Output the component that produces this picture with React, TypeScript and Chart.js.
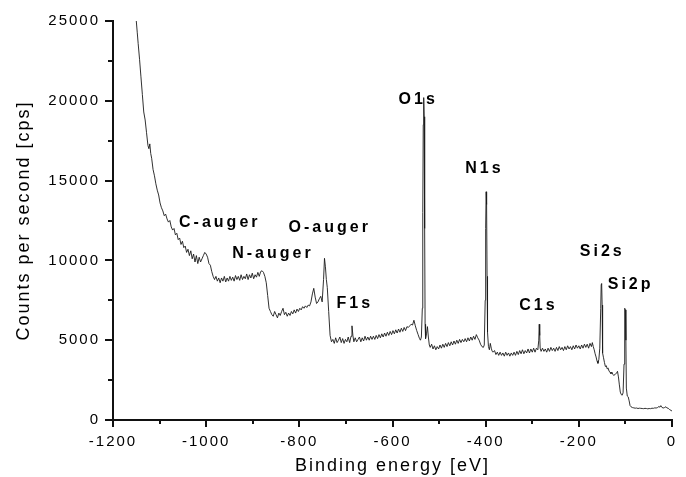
import { useEffect, useRef } from "react";
import { Chart, registerables } from "chart.js";

Chart.register(...registerables);

// Binding energy [eV]
const ENERGY = [
  -1150, -1148, -1146, -1143, -1140, -1137, -1134, -1131, -1128, -1125,
  -1123, -1121, -1119, -1117, -1114, -1111, -1108, -1105, -1102, -1099,
  -1096, -1093, -1090, -1087, -1084, -1081, -1078, -1075, -1072, -1069,
  -1066, -1063, -1060, -1057, -1054, -1051, -1048, -1045, -1042, -1039,
  -1036, -1033, -1030, -1027, -1024, -1021, -1018, -1015, -1012, -1009,
  -1006, -1003, -1000, -997, -994, -991, -988, -985, -982, -979,
  -976, -973, -970, -967, -964, -961, -958, -955, -952, -949,
  -946, -943, -940, -937, -934, -931, -928, -925, -922, -919,
  -916, -913, -910, -907, -904, -901, -898, -895, -892, -889,
  -886, -883, -880, -877, -874, -871, -868, -865, -862, -859,
  -856, -853, -850, -847, -844, -841, -838, -835, -832, -829,
  -826, -823, -820, -817, -814, -811, -808, -805, -802, -799,
  -796, -793, -790, -787, -784, -781, -778, -775, -772, -769,
  -766, -763, -760, -757, -754, -751, -748, -746, -744, -742,
  -740, -737, -734, -731, -728, -725, -722, -719, -716, -713,
  -710, -707, -704, -701, -698, -695, -692, -689, -687, -685,
  -683, -680, -677, -674, -671, -668, -665, -662, -659, -656,
  -653, -650, -647, -644, -641, -638, -635, -632, -629, -626,
  -623, -620, -617, -614, -611, -608, -605, -602, -599, -596,
  -593, -590, -587, -584, -581, -578, -575, -572, -569, -566,
  -563, -560, -557, -554, -551, -548, -545, -542, -540, -538,
  -536, -535, -534, -533, -532, -531, -530, -529, -527, -525,
  -523, -521, -519, -516, -513, -510, -507, -504, -501, -498,
  -495, -492, -489, -486, -483, -480, -477, -474, -471, -468,
  -465, -462, -459, -456, -453, -450, -447, -444, -441, -438,
  -435, -432, -429, -426, -423, -420, -417, -414, -411, -408,
  -405, -403, -401, -400, -399, -398, -397, -396, -394, -392,
  -390, -388, -386, -384, -381, -378, -375, -372, -369, -366,
  -363, -360, -357, -354, -351, -348, -345, -342, -339, -336,
  -333, -330, -327, -324, -321, -318, -315, -312, -309, -306,
  -303, -300, -297, -294, -291, -288, -286, -285, -284, -283,
  -281, -278, -275, -272, -269, -266, -263, -260, -257, -254,
  -251, -248, -245, -242, -239, -236, -233, -230, -227, -224,
  -221, -218, -215, -212, -209, -206, -203, -200, -197, -194,
  -191, -188, -185, -182, -179, -176, -173, -171, -169, -167,
  -165, -163, -161, -159, -157, -155, -153, -152, -151, -150,
  -149, -147, -145, -143, -141, -139, -137, -135, -133, -131,
  -129, -127, -125, -122, -119, -117, -115, -113, -111, -109,
  -107, -105, -103, -102, -101, -100, -99, -98, -96, -94,
  -92, -90, -88, -85, -82, -79, -76, -73, -70, -67,
  -64, -61, -58, -55, -52, -49, -46, -43, -40, -37,
  -34, -31, -28, -26, -24, -22, -19, -16, -13, -11,
  -8, -5, -2, 0,
];

// Counts per second [cps]
const COUNTS = [
  25000, 24300, 23600, 22600, 21500, 20400, 19300, 18800, 18000, 17200,
  17000, 17300, 16700, 16400, 15700, 15300, 14800, 14400, 14100, 13600,
  13300, 13100, 12800, 12900, 12600, 12400, 12500, 12100, 11900, 12000,
  11600, 11700, 11300, 11400, 11000, 11200, 10800, 10900, 10500, 10700,
  10300, 10600, 10100, 10400, 9900, 10300, 9800, 10200, 9900, 10100,
  10300, 10500, 10400, 10200, 9800, 9700, 9300, 9000, 8800, 9000,
  8700, 8900, 8600, 8900, 8700, 9000, 8650, 8900, 8700, 9000,
  8750, 8950, 8700, 9050, 8800, 9000, 8750, 9100, 8800, 9000,
  8850, 9150, 8800, 9100, 8900, 9200, 8850, 9100, 8950, 9250,
  9000, 9300, 9350, 9250, 9000, 8600, 7800, 7000, 6800, 6600,
  6500, 6800, 6600, 6400, 6700, 6550, 6800, 7000, 6600, 6750,
  6500, 6700, 6550, 6800, 6650, 6900, 6700, 6950, 6800, 7000,
  6900, 7100, 7000, 7150, 7050, 7200, 7150, 7400, 7900, 8250,
  7700, 7300, 7400, 7600, 7750, 7400, 8800, 10130, 9600, 8800,
  8300, 6800, 5300, 4900, 5050, 4800, 5150, 4850, 5000, 5200,
  4850, 5100, 4800, 5050, 4900, 5200, 4850, 5250, 5900, 5300,
  4900, 5150, 4900, 5050, 5200, 4900, 5150, 4950, 5250, 5000,
  5200, 5000, 5250, 5050, 5250, 5050, 5300, 5100, 5350, 5150,
  5400, 5200, 5450, 5250, 5500, 5300, 5550, 5350, 5600, 5400,
  5650, 5450, 5700, 5500, 5750, 5550, 5800, 5600, 5850, 5800,
  5900, 6000, 5950, 6250, 5900, 5600, 5350, 5100, 5000, 5200,
  7000, 13000, 18500, 20200, 19000, 12000, 6000, 5100, 5400, 5850,
  5200, 4700, 4550, 4750, 4450, 4650, 4400, 4600, 4450, 4700,
  4500, 4750, 4550, 4800, 4600, 4850, 4650, 4900, 4700, 4950,
  4750, 5000, 4800, 5050, 4850, 5050, 4900, 5100, 4900, 5150,
  4950, 5200, 5000, 5250, 5050, 5350, 5150, 5000, 4750, 4600,
  4550, 4700, 7500, 12000, 14300, 13500, 9000, 5500, 4600, 4400,
  4800, 4500, 4300, 4250, 4350, 4100, 4250, 4050, 4250, 4050,
  4200, 4000, 4250, 4050, 4200, 4000, 4200, 4050, 4250, 4050,
  4300, 4100, 4350, 4150, 4400, 4150, 4350, 4200, 4450, 4200,
  4450, 4250, 4500, 4250, 4500, 4400, 5000, 6000, 5300, 4500,
  4300, 4500, 4300, 4450, 4250, 4500, 4300, 4550, 4350, 4500,
  4300, 4550, 4350, 4600, 4400, 4550, 4350, 4600, 4400, 4650,
  4450, 4600, 4400, 4650, 4450, 4700, 4500, 4650, 4450, 4700,
  4500, 4750, 4550, 4750, 4500, 4800, 4600, 4850, 4600, 4400,
  4150, 3950, 3700, 3550, 3800, 4500, 7000, 8500, 8550, 7200,
  4200, 3900, 3600, 3350, 3400, 3200, 3250, 3050, 3000, 2900,
  3000, 2850, 2800, 2850, 2950, 3050, 2700, 2200, 1750, 1600,
  1550, 1700, 3500, 6000, 7000, 6900, 5000, 2000, 1500, 1450,
  1200, 900, 830, 780, 760, 740, 750, 720, 740, 730,
  720, 710, 730, 720, 700, 720, 710, 740, 730, 760,
  750, 780, 850, 800, 900, 800, 750, 780, 830, 760,
  730, 650, 600, 560,
];

const X_MIN = -1200;
const X_MAX = 0;
const X_STEP = 200;
const Y_MIN = 0;
const Y_MAX = 25000;
const Y_STEP = 5000;
const MAJOR_X = [-1200, -1000, -800, -600, -400, -200, 0];
const MINOR_X = [-1100, -900, -700, -500, -300, -100];
const MAJOR_Y = [0, 5000, 10000, 15000, 20000, 25000];
const MINOR_Y = [2500, 7500, 12500, 17500, 22500];

const PEAK_NAMES = ["C-auger", "N-auger", "O-auger", "F1s", "O1s", "N1s", "C1s", "Si2s", "Si2p"];
const PEAK_NAME_X = [-974, -860, -738, -684, -548, -406, -290, -153, -92];
const PEAK_NAME_Y = [12400, 10400, 12030, 7270, 20050, 15730, 7140, 10530, 8460];

const FONT = '"Liberation Sans", Arial, Helvetica, sans-serif';
const AXIS_COLOR = "#111111";

export default function App() {
  const canvasRef = useRef<HTMLCanvasElement | null>(null);

  useEffect(() => {
    document.body.style.margin = "0";
    document.body.style.background = "#ffffff";
    const canvas = canvasRef.current;
    if (!canvas) return;

    const extras = {
      id: "extras",
      beforeLayout(chart: any) {
        chart.ctx.letterSpacing = "2px";
      },
      beforeDraw(chart: any) {
        const ctx = chart.ctx as CanvasRenderingContext2D;
        (ctx as any).letterSpacing = "2px";
        ctx.save();
        ctx.fillStyle = "#ffffff";
        ctx.fillRect(0, 0, chart.width, chart.height);
        ctx.restore();
      },
      afterDraw(chart: any) {
        const ctx = chart.ctx as CanvasRenderingContext2D;
        const xs = chart.scales.x;
        const ys = chart.scales.y;
        const area = chart.chartArea;
        const L = Math.round(area.left);
        const B = Math.round(area.bottom);
        const T = Math.round(area.top);
        const R = Math.round(area.right);
        ctx.save();
        ctx.fillStyle = AXIS_COLOR;
        // axis lines
        ctx.fillRect(L - 1, B - 1, R - L + 2, 2);
        ctx.fillRect(L - 1, T - 1, 2, B - T + 1);
        // ticks
        for (const v of MAJOR_X) {
          const px = Math.round(xs.getPixelForValue(v));
          ctx.fillRect(px - 1, B, 2, 7);
        }
        for (const v of MINOR_X) {
          const px = Math.round(xs.getPixelForValue(v));
          ctx.fillRect(px - 1, B, 2, 4);
        }
        for (const v of MAJOR_Y) {
          const py = Math.round(ys.getPixelForValue(v));
          ctx.fillRect(L - 8, py - 1, 8, 2);
        }
        for (const v of MINOR_Y) {
          const py = Math.round(ys.getPixelForValue(v));
          ctx.fillRect(L - 5, py - 1, 5, 2);
        }

        ctx.fillStyle = "#000";
        (ctx as any).letterSpacing = "3px";
        ctx.font = `bold 16px ${FONT}`;
        ctx.textAlign = "center";
        ctx.textBaseline = "middle";
        PEAK_NAMES.forEach((name, i) => {
          ctx.fillText(name, xs.getPixelForValue(PEAK_NAME_X[i]) + 1.5, ys.getPixelForValue(PEAK_NAME_Y[i]));
        });
        ctx.restore();
      },
    };

    const chart = new Chart(canvas, {
      type: "line",
      data: {
        datasets: [
          {
            data: ENERGY.map((x, i) => ({ x, y: COUNTS[i] })),
            borderColor: "#1a1a1a",
            borderWidth: 0.9,
            pointRadius: 0,
            tension: 0,
            fill: false,
          },
        ],
      },
      options: {
        responsive: false,
        animation: false,
        devicePixelRatio: 1,
        layout: { padding: { top: 21, right: 14, left: 0, bottom: 0 } },
        plugins: { legend: { display: false }, tooltip: { enabled: false } },
        scales: {
          x: {
            type: "linear",
            min: X_MIN,
            max: X_MAX,
            ticks: {
              stepSize: X_STEP,
              callback: (v: any) => String(v),
              color: "#000",
              font: { family: FONT, size: 15 },
              padding: 6,
              maxRotation: 0,
              autoSkip: false,
            },
            grid: { display: true, drawOnChartArea: false, drawTicks: true, tickLength: 7, tickColor: "rgba(0,0,0,0)" },
            border: { display: false },
            title: {
              display: true,
              text: "Binding energy [eV]",
              color: "#000",
              font: { family: FONT, size: 18 },
              padding: { top: 0, bottom: 0 },
            },
            afterFit: (s: any) => {
              s.height = 57;
            },
          },
          y: {
            type: "linear",
            min: Y_MIN,
            max: Y_MAX,
            ticks: {
              stepSize: Y_STEP,
              callback: (v: any) => String(v),
              color: "#000",
              font: { family: FONT, size: 15 },
              padding: 6,
            },
            grid: { display: true, drawOnChartArea: false, drawTicks: true, tickLength: 7, tickColor: "rgba(0,0,0,0)" },
            border: { display: false },
            title: {
              display: true,
              text: "Counts per second [cps]",
              color: "#000",
              font: { family: FONT, size: 18 },
              padding: { top: 13, bottom: 0 },
            },
            afterFit: (s: any) => {
              s.width = 113;
            },
          },
        },
      },
      plugins: [extras],
    } as any);

    return () => chart.destroy();
  }, []);

  return <canvas ref={canvasRef} width={686} height={477} style={{ display: "block" }} />;
}
